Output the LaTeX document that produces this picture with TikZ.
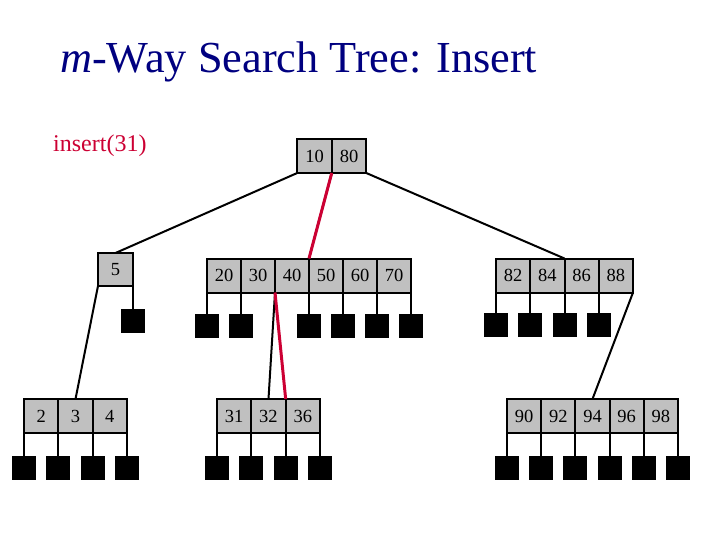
\documentclass[tikz,border=0pt]{standalone}
\usepackage{fontspec}
\setmainfont{Liberation Serif}
\definecolor{navy}{RGB}{0,0,128}
\definecolor{crim}{RGB}{204,0,51}
\definecolor{cellgray}{RGB}{192,192,192}
\begin{document}
\begin{tikzpicture}[x=1pt,y=-1pt,
  cell/.style={draw=black, fill=cellgray, line width=2pt, minimum width=#1,
    minimum height=34pt, inner sep=0pt, outer sep=0pt, font=\fontsize{18.5}{20}\selectfont},
  cell/.default=34.3pt,
  leaf/.style={fill=black, minimum width=24pt, minimum height=24pt, inner sep=0pt,
    outer sep=0pt, anchor=north},
  edge/.style={line width=2pt},
  searchline/.style={draw=crim, line width=3pt}]
\useasboundingbox (0,0) rectangle (720,540);

% title and label
\node[anchor=base west, inner sep=0pt, text=navy, font=\fontsize{44.3}{50}\selectfont]
  (title) at (60,73) {\textit{m}-Way Search Tree: Insert};
\node[anchor=base west, inner sep=0pt, text=crim, font=\fontsize{24}{28}\selectfont]
  (ins) at (53,152) {insert(31)};

% root
\node[cell=34.5pt] (r1) at (314.5,156) {10};
\node[cell=34.5pt] (r2) at (349,156) {80};
% level 1
\node[cell=35pt, minimum height=33pt] (n5) at (115.5,269.5) {5};
\foreach \t [count=\i] in {20,30,40,50,60,70}
  \node[cell=34pt] (a\i) at ({207+34*(\i-0.5)},275.5) {\t};
\foreach \t [count=\i] in {82,84,86,88}
  \node[cell=34.25pt] (b\i) at ({496+34.25*(\i-0.5)},275.5) {\t};
% level 2
\foreach \t [count=\i] in {2,3,4}
  \node[cell=34.33pt] (c\i) at ({24+34.33*(\i-0.5)},416) {\t};
\foreach \t [count=\i] in {31,32,36}
  \node[cell=34.33pt] (d\i) at ({217+34.33*(\i-0.5)},416) {\t};
\foreach \t [count=\i] in {90,92,94,96,98}
  \node[cell=34.2pt] (e\i) at ({507+34.2*(\i-0.5)},416) {\t};

% external nodes
\node[leaf] (l5) at (n5.south east |- 0,309) {};
\draw[edge] (n5.south east) -- (l5.north);
\foreach \c/\a/\n in {a1/south west/1, a1/south east/2, a3/south east/4, a4/south east/5, a5/south east/6, a6/south east/7}{
  \node[leaf] (la\n) at (\c.\a |- 0,314) {};
  \draw[edge] (\c.\a) -- (la\n.north);
}
\foreach \c/\a/\n in {b1/south west/1, b1/south east/2, b2/south east/3, b3/south east/4}{
  \node[leaf] (lb\n) at (\c.\a |- 0,313) {};
  \draw[edge] (\c.\a) -- (lb\n.north);
}
\foreach \c/\a/\n in {c1/south west/1, c1/south east/2, c2/south east/3, c3/south east/4}{
  \node[leaf] (lc\n) at (\c.\a |- 0,456) {};
  \draw[edge] (\c.\a) -- (lc\n.north);
}
\foreach \c/\a/\n in {d1/south west/1, d1/south east/2, d2/south east/3, d3/south east/4}{
  \node[leaf] (ld\n) at (\c.\a |- 0,456) {};
  \draw[edge] (\c.\a) -- (ld\n.north);
}
\foreach \c/\a/\n in {e1/south west/1, e1/south east/2, e2/south east/3, e3/south east/4, e4/south east/5, e5/south east/6}{
  \node[leaf] (le\n) at (\c.\a |- 0,456) {};
  \draw[edge] (\c.\a) -- (le\n.north);
}

% tree edges
\draw[edge] (r1.south west) -- (n5.north);
\draw[edge] (r1.south east) -- (a3.north east);
\draw[edge] (r2.south east) -- (b2.north east);
\draw[edge] (n5.south west) -- (c2.north);
\draw[edge] (a2.south east) -- (d2.north);
\draw[edge] (b4.south east) -- (e3.north);

% search path
\draw[searchline] (r1.south east) -- (a3.north east);
\draw[searchline] (a2.south east) -- (d2.north east);
\end{tikzpicture}
\end{document}
